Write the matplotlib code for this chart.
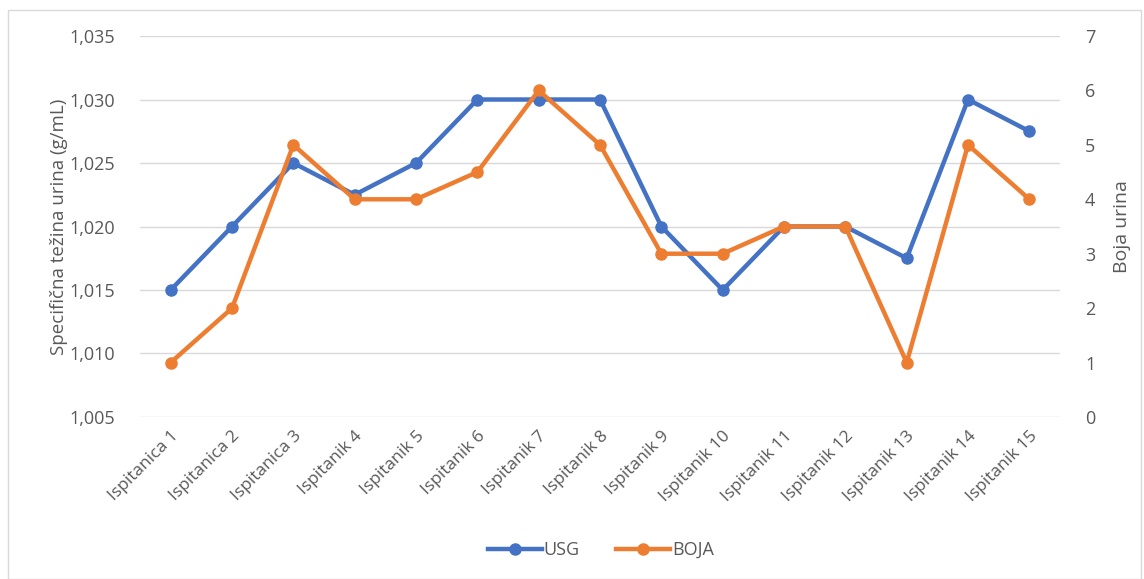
import matplotlib.pyplot as plt
from matplotlib.ticker import FuncFormatter, MultipleLocator
from matplotlib.patches import Rectangle

plt.rcParams['font.family'] = ['Open Sans', 'DejaVu Sans']

labels = ['Ispitanica 1', 'Ispitanica 2', 'Ispitanica 3', 'Ispitanik 4', 'Ispitanik 5',
          'Ispitanik 6', 'Ispitanik 7', 'Ispitanik 8', 'Ispitanik 9', 'Ispitanik 10',
          'Ispitanik 11', 'Ispitanik 12', 'Ispitanik 13', 'Ispitanik 14', 'Ispitanik 15']
usg = [1.015, 1.020, 1.025, 1.0225, 1.025, 1.030, 1.030, 1.030, 1.020, 1.015,
       1.020, 1.020, 1.0175, 1.030, 1.0275]
boja = [1, 2, 5, 4, 4, 4.5, 6, 5, 3, 3, 3.5, 3.5, 1, 5, 4]

blue = '#4472C4'
orange = '#ED7D31'
gray = '#595959'

fig = plt.figure(figsize=(11.44, 5.79), dpi=100)
fig.patches.append(Rectangle((0.007, 0.0), 0.99, 0.983, transform=fig.transFigure,
                             fill=False, edgecolor='#D9D9D9', linewidth=1))
ax = fig.add_axes([0.1224, 0.2798, 0.8042, 0.658])
ax2 = ax.twinx()

x = range(len(labels))
ax.plot(x, usg, color=blue, linewidth=3.2, marker='o', markersize=8, label='USG')
ax2.plot(x, boja, color=orange, linewidth=3.2, marker='o', markersize=8, label='BOJA')

ax.set_xlim(-0.5, len(labels) - 0.5)
ax.set_ylim(1.005, 1.035)
ax.yaxis.set_major_locator(MultipleLocator(0.005))
ax.yaxis.set_major_formatter(FuncFormatter(lambda v, p: f"{v:.3f}".replace('.', ',')))
ax2.set_ylim(0, 7)
ax2.yaxis.set_major_locator(MultipleLocator(1))

ax.grid(axis='y', color='#D9D9D9', linewidth=1)
ax.set_axisbelow(True)
for a in (ax, ax2):
    for s in a.spines.values():
        s.set_visible(False)
    a.tick_params(length=0, labelsize=13, labelcolor=gray)

ax.tick_params(axis='y', pad=18)
ax2.tick_params(axis='y', pad=18)
ax.set_xticks(list(x))
ax.set_xticklabels(labels, rotation=45, ha='right', rotation_mode='anchor')
ax.tick_params(axis='x', pad=8, labelsize=12.5)

ax.set_ylabel('Specifična težina urina (g/mL)', fontsize=13.5, color=gray, labelpad=1)
ax2.set_ylabel('Boja urina', fontsize=14, color=gray, labelpad=13)

h1, l1 = ax.get_legend_handles_labels()
h2, l2 = ax2.get_legend_handles_labels()
fig.legend(h1 + h2, l1 + l2, loc='center', bbox_to_anchor=(0.525, 0.05), ncol=2,
           frameon=False, fontsize=13, labelcolor=gray, handlelength=3,
           handletextpad=0.1, columnspacing=2)

fig.savefig('out.png', dpi=100)
